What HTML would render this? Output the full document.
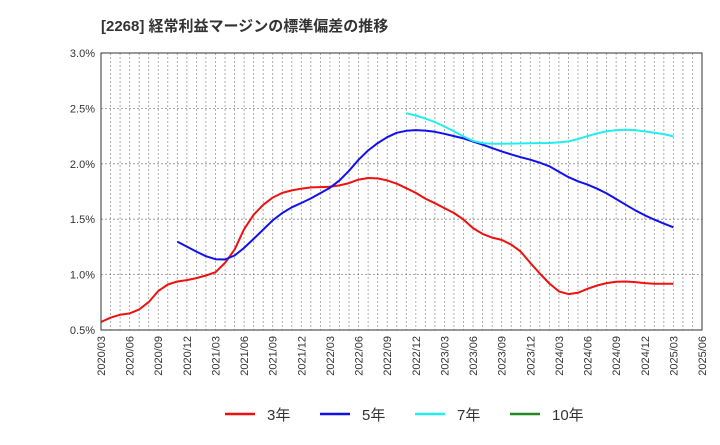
<!DOCTYPE html>
<html><head><meta charset="utf-8"><style>
body{margin:0;background:#fff;font-family:"Liberation Sans","Noto Sans CJK JP",sans-serif;}
svg text{font-family:"Liberation Sans","Noto Sans CJK JP",sans-serif;}
</style></head><body>
<svg id="chart" width="720" height="440" xmlns="http://www.w3.org/2000/svg">
<text x="101" y="31" font-size="15" font-weight="bold" fill="#333">[2268]  経常利益マージンの標準偏差の推移</text>
<g id="grid"></g><g id="series"></g><g id="axes"></g>
<g id="legend"></g>
</svg>
<script>
const xLabels=["2020/03","2020/06","2020/09","2020/12","2021/03","2021/06","2021/09","2021/12","2022/03","2022/06","2022/09","2022/12","2023/03","2023/06","2023/09","2023/12","2024/03","2024/06","2024/09","2024/12","2025/03","2025/06"];
const yTicks=[0.5,1.0,1.5,2.0,2.5,3.0];
const s3Start=0;
const s3=[0.572,0.611,0.638,0.65,0.686,0.752,0.851,0.911,0.938,0.95,0.968,0.992,1.022,1.106,1.226,1.41,1.54,1.63,1.695,1.737,1.76,1.775,1.787,1.79,1.793,1.805,1.826,1.857,1.872,1.868,1.85,1.82,1.78,1.737,1.686,1.644,1.60,1.556,1.496,1.42,1.367,1.334,1.313,1.271,1.208,1.106,1.01,0.92,0.848,0.824,0.836,0.872,0.902,0.923,0.935,0.938,0.932,0.923,0.917,0.917,0.917];
const s5Start=8;
const s5=[1.298,1.253,1.208,1.166,1.139,1.136,1.172,1.241,1.322,1.406,1.49,1.556,1.607,1.646,1.688,1.736,1.784,1.85,1.937,2.037,2.12,2.187,2.24,2.28,2.298,2.304,2.30,2.289,2.271,2.25,2.229,2.20,2.172,2.142,2.112,2.085,2.06,2.037,2.01,1.977,1.929,1.88,1.842,1.812,1.775,1.733,1.682,1.631,1.58,1.535,1.496,1.46,1.427];
const s7Start=32;
const s7=[2.457,2.436,2.409,2.376,2.337,2.292,2.247,2.208,2.187,2.181,2.181,2.182,2.184,2.185,2.187,2.188,2.193,2.202,2.223,2.25,2.274,2.292,2.304,2.307,2.304,2.292,2.28,2.268,2.247];
const s10Start=0;
const s10=[];
const legendNames=["3年","5年","7年","10年"];
const colors=["#ee1111","#1111ee","#22eeee","#228822"];

const L=101,R=702,T=53,B=330,NM=63;
const xs=m=>L+m*(R-L)/NM;
const ys=v=>B-(v-0.5)/2.5*(B-T);
const NS="http://www.w3.org/2000/svg";
function mk(tag,attrs,parent){const e=document.createElementNS(NS,tag);for(const k in attrs)e.setAttribute(k,attrs[k]);parent.appendChild(e);return e;}
const grid=document.getElementById('grid'),axes=document.getElementById('axes'),ser=document.getElementById('series'),leg=document.getElementById('legend');
for(let m=1;m<NM;m++){
  const l=mk('line',{x1:xs(m),x2:xs(m),y1:T,y2:B,stroke:'#999','stroke-width':0.8,'stroke-dasharray':'2,2'},grid);
  
  
}
yTicks.forEach(v=>{
  if(v>0.5&&v<3.0){
    const l=mk('line',{x1:L,x2:R,y1:ys(v),y2:ys(v),stroke:'#888','stroke-width':0.8,'stroke-dasharray':'2,2'},grid);
    
    
  }
  const t=mk('text',{x:L-6,y:ys(v)+4,'text-anchor':'end','font-size':11,fill:'#333'},axes);
  
  
  t.textContent=v.toFixed(1)+'%';
});
const fr=mk('rect',{x:L,y:T,width:R-L,height:B-T,fill:'none',stroke:'#333','stroke-width':1},axes);


xLabels.forEach((lab,i)=>{
  const x=xs(i*3);
  const t=mk('text',{x:0,y:0,'text-anchor':'end','font-size':11,fill:'#333',transform:`translate(${x+4},${B+6}) rotate(-90)`},axes);
  
  
  t.textContent=lab;
});
[[s3,s3Start],[s5,s5Start],[s7,s7Start],[s10,s10Start]].forEach(([arr,st],k)=>{
  if(!arr.length)return;
  const d=arr.map((v,i)=>(i?'L':'M')+xs(st+i).toFixed(1)+','+ys(v).toFixed(1)).join(' ');
  const p=mk('path',{d:d,fill:'none',stroke:colors[k],'stroke-width':2,'stroke-linejoin':'round'},ser);
  
  
});
const lx=[225,320,415,510];
legendNames.forEach((n,k)=>{
  const g=mk('g',{},leg);
  
  
  mk('line',{x1:lx[k],x2:lx[k]+30,y1:414,y2:414,stroke:colors[k],'stroke-width':2.5},g);
  const t=mk('text',{x:lx[k]+42,y:420,'font-size':15,fill:'#333'},g);
  t.textContent=n;
});
</script>
</body></html>
